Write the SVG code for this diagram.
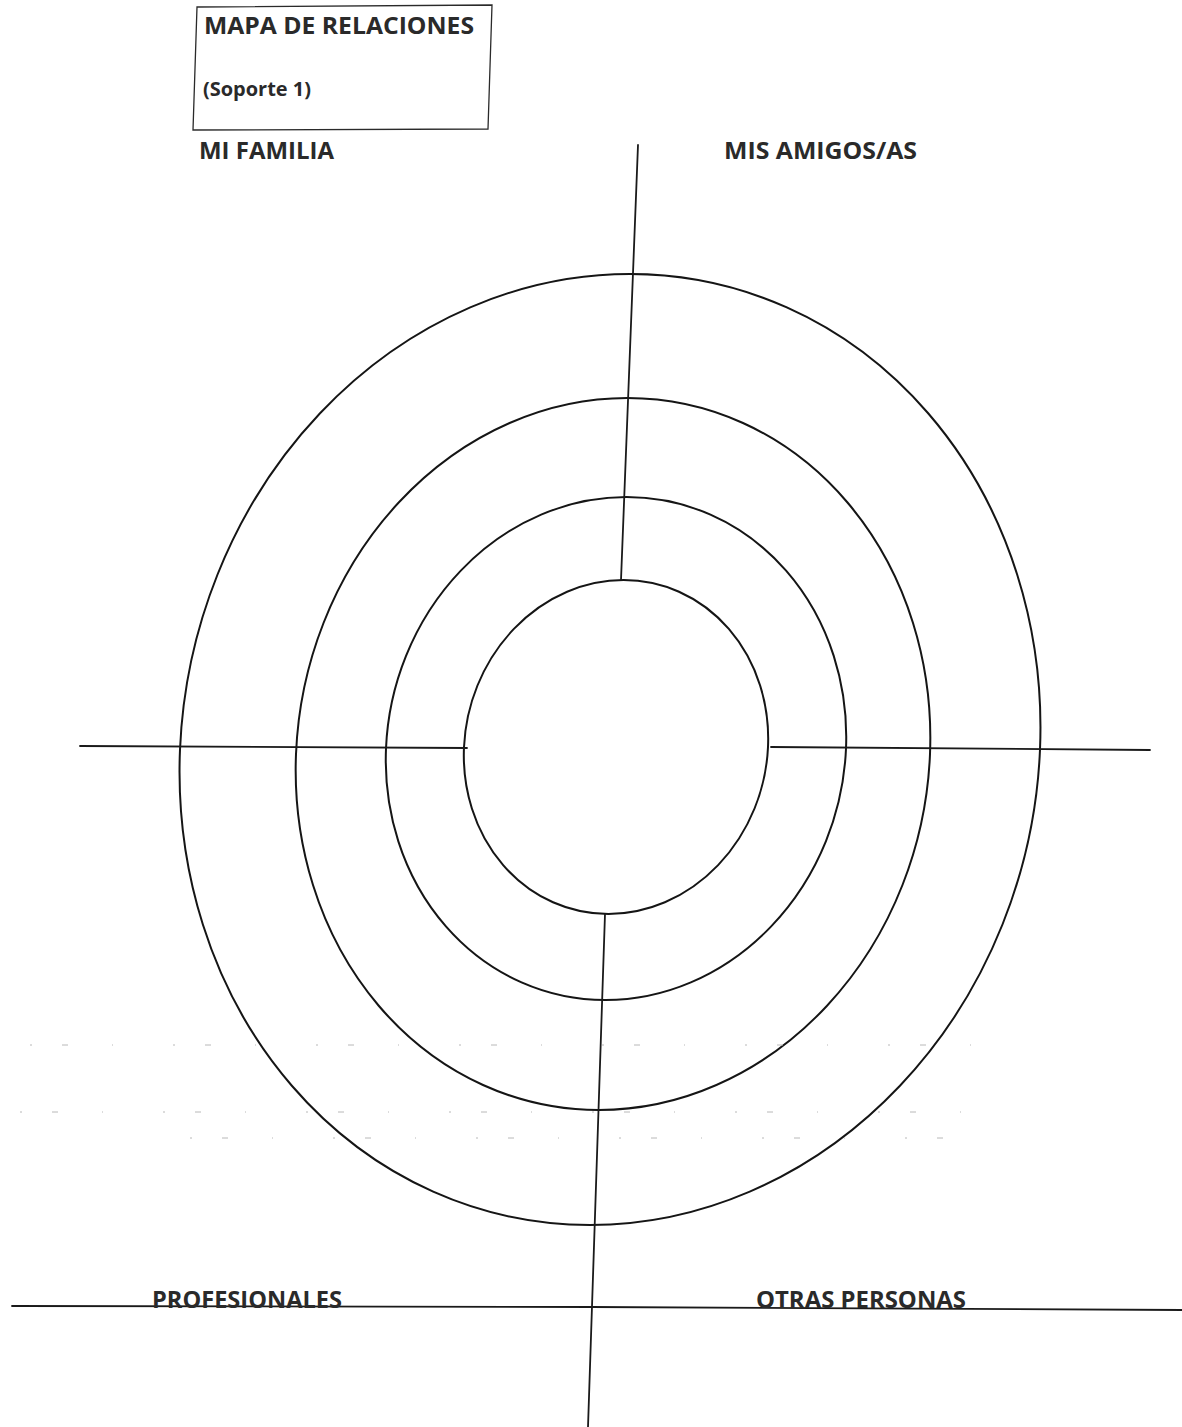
<svg xmlns="http://www.w3.org/2000/svg" width="1182" height="1427" viewBox="0 0 1182 1427">
  <style>
    .ring { fill: none; stroke: #151515; stroke-width: 2; }
    .axis { fill: none; stroke: #1a1a1a; stroke-width: 1.8; stroke-linecap: round; }
    .label { font-family: "Open Sans", "Liberation Sans", sans-serif; font-weight: 700; fill: #2a2a2a; }
    .noise { stroke: #b8b8b8; stroke-width: 1; stroke-dasharray: 2 30 6 44 1 60; fill: none; }
  </style>
  <rect x="0" y="0" width="1182" height="1427" fill="#ffffff"/>

  <g id="title-box">
    <polygon points="197,7 492,5 488,129 193,130" fill="none" stroke="#2a2a2a" stroke-width="1.3"/>
    <text class="label" x="204" y="34" font-size="24" textLength="270" lengthAdjust="spacingAndGlyphs">MAPA DE RELACIONES</text>
    <text class="label" x="203" y="96" font-size="19" textLength="108" lengthAdjust="spacingAndGlyphs">(Soporte 1)</text>
  </g>

  <g id="ring-outer">
    <ellipse class="ring" cx="0" cy="0" rx="430" ry="475.5" transform="translate(610,749.5) skewX(-2.4)"/>
  </g>
  <g id="ring-second">
    <ellipse class="ring" cx="0" cy="0" rx="317" ry="356" transform="translate(613,754) skewX(-2.3)"/>
  </g>
  <g id="ring-third">
    <ellipse class="ring" cx="0" cy="0" rx="230" ry="251.5" transform="translate(616,748.5) skewX(-2.4)"/>
  </g>
  <g id="ring-inner">
    <ellipse class="ring" cx="0" cy="0" rx="152" ry="167" transform="translate(616,747) skewX(-2.6)"/>
  </g>

  <g id="connectors">
    <line class="axis" x1="638" y1="145" x2="621" y2="580"/>
    <line class="axis" x1="605" y1="914" x2="588" y2="1427"/>
    <line class="axis" x1="80" y1="746" x2="467" y2="748"/>
    <line class="axis" x1="771" y1="747" x2="1150" y2="750"/>
    <line class="axis" x1="12" y1="1306" x2="591" y2="1307" stroke="#3a3a3a"/>
    <line class="axis" x1="591" y1="1307" x2="1182" y2="1310" stroke="#3a3a3a"/>
  </g>

  <g id="label-familia">
    <text class="label" x="199" y="159" font-size="23" textLength="135" lengthAdjust="spacingAndGlyphs">MI FAMILIA</text>
  </g>
  <g id="label-amigos">
    <text class="label" x="724" y="159" font-size="23" textLength="193" lengthAdjust="spacingAndGlyphs">MIS AMIGOS/AS</text>
  </g>
  <g id="label-profesionales">
    <text class="label" x="152" y="1308" font-size="23" textLength="190" lengthAdjust="spacingAndGlyphs">PROFESIONALES</text>
  </g>
  <g id="label-otras">
    <text class="label" x="756" y="1308" font-size="23" textLength="210" lengthAdjust="spacingAndGlyphs">OTRAS PERSONAS</text>
  </g>

  <g id="scan-noise">
    <path class="noise" d="M30 1045 H990"/>
    <path class="noise" d="M20 1112 H990"/>
    <path class="noise" d="M190 1138 H960"/>
  </g>
</svg>
